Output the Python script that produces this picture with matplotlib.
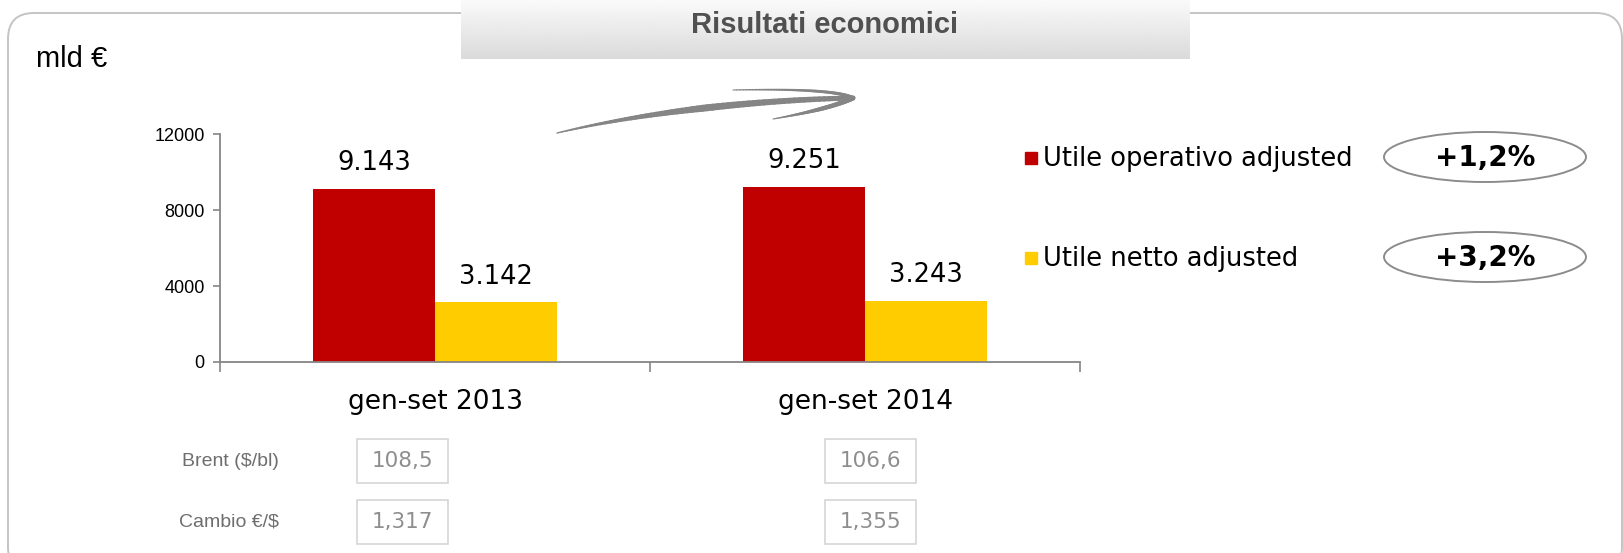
import numpy as np
import matplotlib
matplotlib.use('Agg')
import matplotlib.pyplot as plt
from matplotlib.patches import Rectangle, Ellipse, FancyBboxPatch
from matplotlib.collections import LineCollection

# dati
categorie = ['gen-set 2013', 'gen-set 2014']
utile_operativo = [9143, 9251]
utile_netto = [3142, 3243]
serie_nomi = ['Utile operativo adjusted', 'Utile netto adjusted']
variazioni = ['+1,2%', '+3,2%']
brent = ['108,5', '106,6']
cambio = ['1,317', '1,355']
y_ticks = [0, 4000, 8000, 12000]

ROSSO = '#C00000'
GIALLO = '#FFCC00'
GRIGIO = '#868686'

W, H = 1623, 553
fig = plt.figure(figsize=(W / 100, H / 100), dpi=100)

# livello decorativo in coordinate pixel
ov = fig.add_axes([0, 0, 1, 1], zorder=0)
ov.axis('off')

# cornice arrotondata
ov.add_patch(FancyBboxPatch((8, 13), 1614, 560, boxstyle='round,pad=0,rounding_size=26',
                            fc='white', ec='#c4c4c4', lw=1.4))

# riquadro titolo con sfumatura
grad = np.linspace(0.98, 0.855, 100).reshape(-1, 1)
ov.imshow(grad, cmap='gray', vmin=0, vmax=1, extent=(461, 1190, 59, 0), aspect='auto', zorder=2)
ov.text(825, 25, 'Risultati economici', fontsize=21, fontweight='bold', color='#505050',
        family='Liberation Sans', ha='center', va='center', zorder=3)

ov.text(36, 59, 'mld €', fontsize=21, family='Liberation Sans', ha='left', va='center')


# freccia a pennello
def bezier(p, n=60):
    p = np.array(p, dtype=float)
    t = np.linspace(0, 1, n)[:, None]
    if len(p) == 3:
        return (1 - t) ** 2 * p[0] + 2 * (1 - t) * t * p[1] + t ** 2 * p[2]
    return ((1 - t) ** 3 * p[0] + 3 * (1 - t) ** 2 * t * p[1]
            + 3 * (1 - t) * t ** 2 * p[2] + t ** 3 * p[3])


def stroke(pts, w0, w1, w2):
    seg = np.stack([pts[:-1], pts[1:]], axis=1)
    n = len(seg)
    t = np.linspace(0, 1, n)
    widths = np.where(t < 0.5, w0 + (w1 - w0) * t * 2, w1 + (w2 - w1) * (t - 0.5) * 2)
    ov.add_collection(LineCollection(seg, linewidths=widths, colors='#858585',
                                     capstyle='round', zorder=3))


stroke(bezier([(557, 133), (650, 111), (760, 100), (853, 98)]), 1.0, 5.0, 3.5)
stroke(bezier([(733, 90), (835, 88), (853, 98)]), 0.8, 2.0, 2.5)
stroke(bezier([(853, 98), (830, 109), (773, 119)]), 3.5, 3.0, 0.8)

ov.set_xlim(0, W)
ov.set_ylim(H, 0)

# grafico a barre
ax = fig.add_axes([220 / W, 1 - 362 / H, 860 / W, 227.5 / H], zorder=1)
ax.patch.set_alpha(0)
x = np.arange(len(categorie))
w = 0.284
b1 = ax.bar(x - w / 2, utile_operativo, w, color=ROSSO)
b2 = ax.bar(x + w / 2, utile_netto, w, color=GIALLO)

for bars, vals in [(b1, utile_operativo), (b2, utile_netto)]:
    for r, v in zip(bars, vals):
        ax.annotate(f'{v:,}'.replace(',', '.'), (r.get_x() + r.get_width() / 2, v),
                    xytext=(0, 18.5), textcoords='offset points',
                    ha='center', va='center', fontsize=18.5, family='DejaVu Sans')

ax.set_ylim(0, 12000)
ax.set_xlim(-0.5, 1.5)
ax.set_yticks(y_ticks)
ax.set_yticklabels([str(t) for t in y_ticks], family='Liberation Sans', fontsize=13)
ax.set_xticks(x)
ax.set_xticklabels(categorie, fontsize=19, family='DejaVu Sans')
ax.set_xticks([-0.5, 0.5, 1.5], minor=True)
ax.tick_params(axis='x', which='major', length=0, pad=19.5)
ax.tick_params(axis='x', which='minor', length=7, color=GRIGIO, width=1.2)
ax.tick_params(axis='y', length=5, color=GRIGIO, width=1.2, pad=6)
for s in ['top', 'right']:
    ax.spines[s].set_visible(False)
for s in ['left', 'bottom']:
    ax.spines[s].set_color(GRIGIO)
    ax.spines[s].set_linewidth(1.3)

# legenda e variazioni
for i, (nome, col, var) in enumerate(zip(serie_nomi, [ROSSO, GIALLO], variazioni)):
    yc = 157 + i * 100
    ov.add_patch(Rectangle((1025, yc - 5), 12, 12, color=col, zorder=3))
    ov.text(1043, yc + 2, nome, fontsize=18.5, family='DejaVu Sans', ha='left', va='center', zorder=3)
    ov.add_patch(Ellipse((1485, yc), 202, 50, fc='none', ec='#8c8c8c', lw=1.4, zorder=3))
    ov.text(1485, yc + 1, var, fontsize=20, fontweight='bold', family='DejaVu Sans',
            ha='center', va='center', zorder=4)

# tabella Brent / cambio
righe = [('Brent ($/bl)', brent, 461), ('Cambio €/$', cambio, 522)]
box_x = [357, 825]
for nome, vals, yc in righe:
    ov.text(279, yc, nome, fontsize=14, family='Liberation Sans', color='#6e6e6e',
            ha='right', va='center', zorder=3)
    for bx, v in zip(box_x, vals):
        ov.add_patch(Rectangle((bx, yc - 22), 91, 44, fc='white', ec='#d2d2d2', lw=1.1, zorder=3))
        ov.text(bx + 45.5, yc, v, fontsize=15.5, family='DejaVu Sans', color='#8e8e8e',
                ha='center', va='center', zorder=4)

fig.savefig('out.png', dpi=100)
